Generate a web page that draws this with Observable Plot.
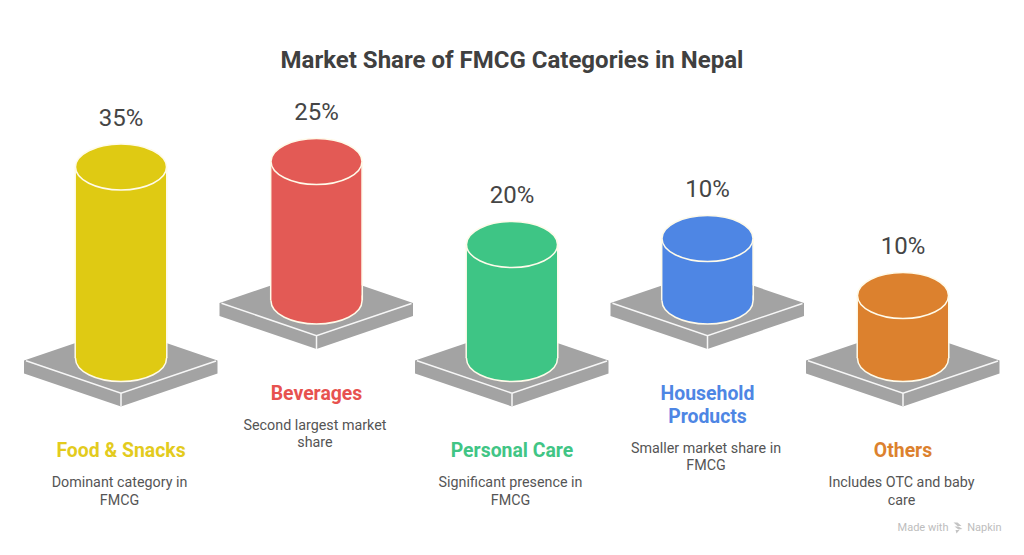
<!DOCTYPE html>
<html>
<head>
<meta charset="utf-8">
<script src="https://cdn.jsdelivr.net/npm/d3@7"></script>
<script src="https://cdn.jsdelivr.net/npm/@observablehq/plot@0.6"></script>
<style>
  html, body { margin: 0; padding: 0; background: #fff; width: 1024px; height: 555px; overflow: hidden; }
  h1 { margin: 0; box-sizing: border-box; height: 90px; padding-top: 46px; text-align: center;
       font: 700 24px/28px Roboto, sans-serif; color: #404040; }
  svg { display: block; }
</style>
</head>
<body>
<h1>Market Share of FMCG Categories in Nepal</h1>
<div id="chart"></div>
<script>
// ---- data ----
const categories = ["Food & Snacks", "Beverages", "Personal Care", "Household\nProducts", "Others"];
const shareLabels = ["35%", "25%", "20%", "10%", "10%"];
const cylinderHeights = [191.5, 139.5, 114, 62.5, 63];
const descriptions = [
  "Dominant category in\nFMCG",
  "Second largest market\nshare",
  "Significant presence in\nFMCG",
  "Smaller market share in\nFMCG",
  "Includes OTC and baby\ncare"
];
const colors = ["#dfca13", "#e35a55", "#3ec585", "#4e86e4", "#dc812e"];
const labelColors = ["#e3cb1d", "#e7524f", "#41c585", "#4e86e4", "#dc812e"];
const raised = [false, true, false, true, false];

// ---- layout ----
const floorLow = 358, floorHigh = 300.5;
const rx = 45.5, ry = 23;

const rows = categories.map((name, i) => {
  const base = raised[i] ? floorHigh : floorLow;
  const lines = name.split("\n").length;
  const labelY = base + 89;
  return {
    name, share: shareLabels[i], desc: descriptions[i], fill: colors[i], labelFill: labelColors[i],
    base, top: base - cylinderHeights[i], labelY,
    descY: labelY + (lines - 1) * 23 + 32
  };
});

// ---- custom symbols ----
const K = 0.5522848;
const ellipseSymbol = {
  draw(c) {
    c.moveTo(-rx, 0);
    c.bezierCurveTo(-rx, -K * ry, -K * rx, -ry, 0, -ry);
    c.bezierCurveTo(K * rx, -ry, rx, -K * ry, rx, 0);
    c.bezierCurveTo(rx, K * ry, K * rx, ry, 0, ry);
    c.bezierCurveTo(-K * rx, ry, -rx, K * ry, -rx, 0);
    c.closePath();
  }
};
const slabSymbol = { // origin: centre of cylinder base
  draw(c) {
    c.moveTo(-97, 2);
    c.lineTo(0, -31);
    c.lineTo(96.5, 2);
    c.lineTo(96.5, 15);
    c.lineTo(0, 48);
    c.lineTo(-97, 15);
    c.closePath();
  }
};
const slabEdgeSymbol = {
  draw(c) {
    c.moveTo(-95, 2.3);
    c.lineTo(0, 34.7);
    c.lineTo(95, 2.5);
    c.moveTo(0, 34.7);
    c.lineTo(0, 48);
  }
};
const napkinSymbol = {
  draw(c) {
    c.moveTo(-4, -5); c.lineTo(0, -5); c.lineTo(4, -1.5); c.lineTo(0, -1.5); c.closePath();
    c.moveTo(-3, -1); c.lineTo(1, -1); c.lineTo(5, 1.5); c.lineTo(1, 2); c.closePath();
    c.moveTo(-2, 2.5); c.lineTo(2, 2.5); c.lineTo(-1, 6); c.closePath();
  }
};

const roboto = "Roboto, sans-serif";

const chart = Plot.plot({
  width: 1024,
  height: 465,
  marginTop: 0, marginRight: 0, marginBottom: 0, marginLeft: 0,
  style: { background: "#fff", fontFamily: roboto },
  x: { type: "band", domain: categories, range: [75, 948], paddingInner: 1 - 91 / 195.5, paddingOuter: 0, round: false, axis: null },
  y: { domain: [90, 555], range: [0, 465], axis: null },
  marks: [
    // slabs
    Plot.dot(rows, { x: "name", y: "base", r: 1, symbol: slabSymbol, fill: "#a3a3a3", stroke: "none" }),
    Plot.dot(rows, { x: "name", y: "base", r: 1, symbol: slabEdgeSymbol, fill: "none", stroke: "#f7f7f7", strokeWidth: 1.5 }),
    // cylinders
    Plot.dot(rows, { x: "name", y: "base", r: 1, symbol: ellipseSymbol, fill: "fill", stroke: "#fffbea", strokeWidth: 1.5 }),
    Plot.barY(rows, { x: "name", y1: "base", y2: "top", fill: "fill" }),
    Plot.ruleX(rows, { x: "name", y1: "base", y2: "top", dx: -45.8, stroke: "#fffbea", strokeWidth: 1.5 }),
    Plot.ruleX(rows, { x: "name", y1: "base", y2: "top", dx: 45.8, stroke: "#fffbea", strokeWidth: 1.5 }),
    Plot.dot(rows, { x: "name", y: "top", r: 1, symbol: ellipseSymbol, fill: "fill", stroke: "#fffbea", strokeWidth: 1.5 }),
    // percentages
    Plot.text(rows, { x: "name", y: d => d.top - 49, text: "share", fontSize: 24, fill: "#454545", lineAnchor: "middle", fontFamily: roboto }),
    // labels
    Plot.text(rows, { x: "name", y: "labelY", text: "name", fontSize: 19.4, fontWeight: 700, fill: "labelFill", lineAnchor: "top", dy: -6.7, lineHeight: 1.19, fontFamily: roboto }),
    Plot.text(rows, { x: "name", y: "descY", text: "desc", fontSize: 14.3, fill: "#555", lineAnchor: "top", dx: -1.5, dy: -5, lineHeight: 1.23, fontFamily: roboto }),
    // watermark
    Plot.text(["Made with"], { frameAnchor: "bottom-right", dx: -76, dy: -28, textAnchor: "end", lineAnchor: "middle", fontSize: 11, fill: "#bdbdbd", fontFamily: roboto }),
    Plot.text(["Napkin"], { frameAnchor: "bottom-right", dx: -23, dy: -28, textAnchor: "end", lineAnchor: "middle", fontSize: 11, fill: "#bdbdbd", fontFamily: roboto }),
    Plot.dot([0], { frameAnchor: "bottom-right", dx: -67, dy: -28, r: 1, symbol: napkinSymbol, fill: "#c4c4c4", stroke: "none" })
  ]
});
document.getElementById("chart").appendChild(chart);
</script>
</body>
</html>
